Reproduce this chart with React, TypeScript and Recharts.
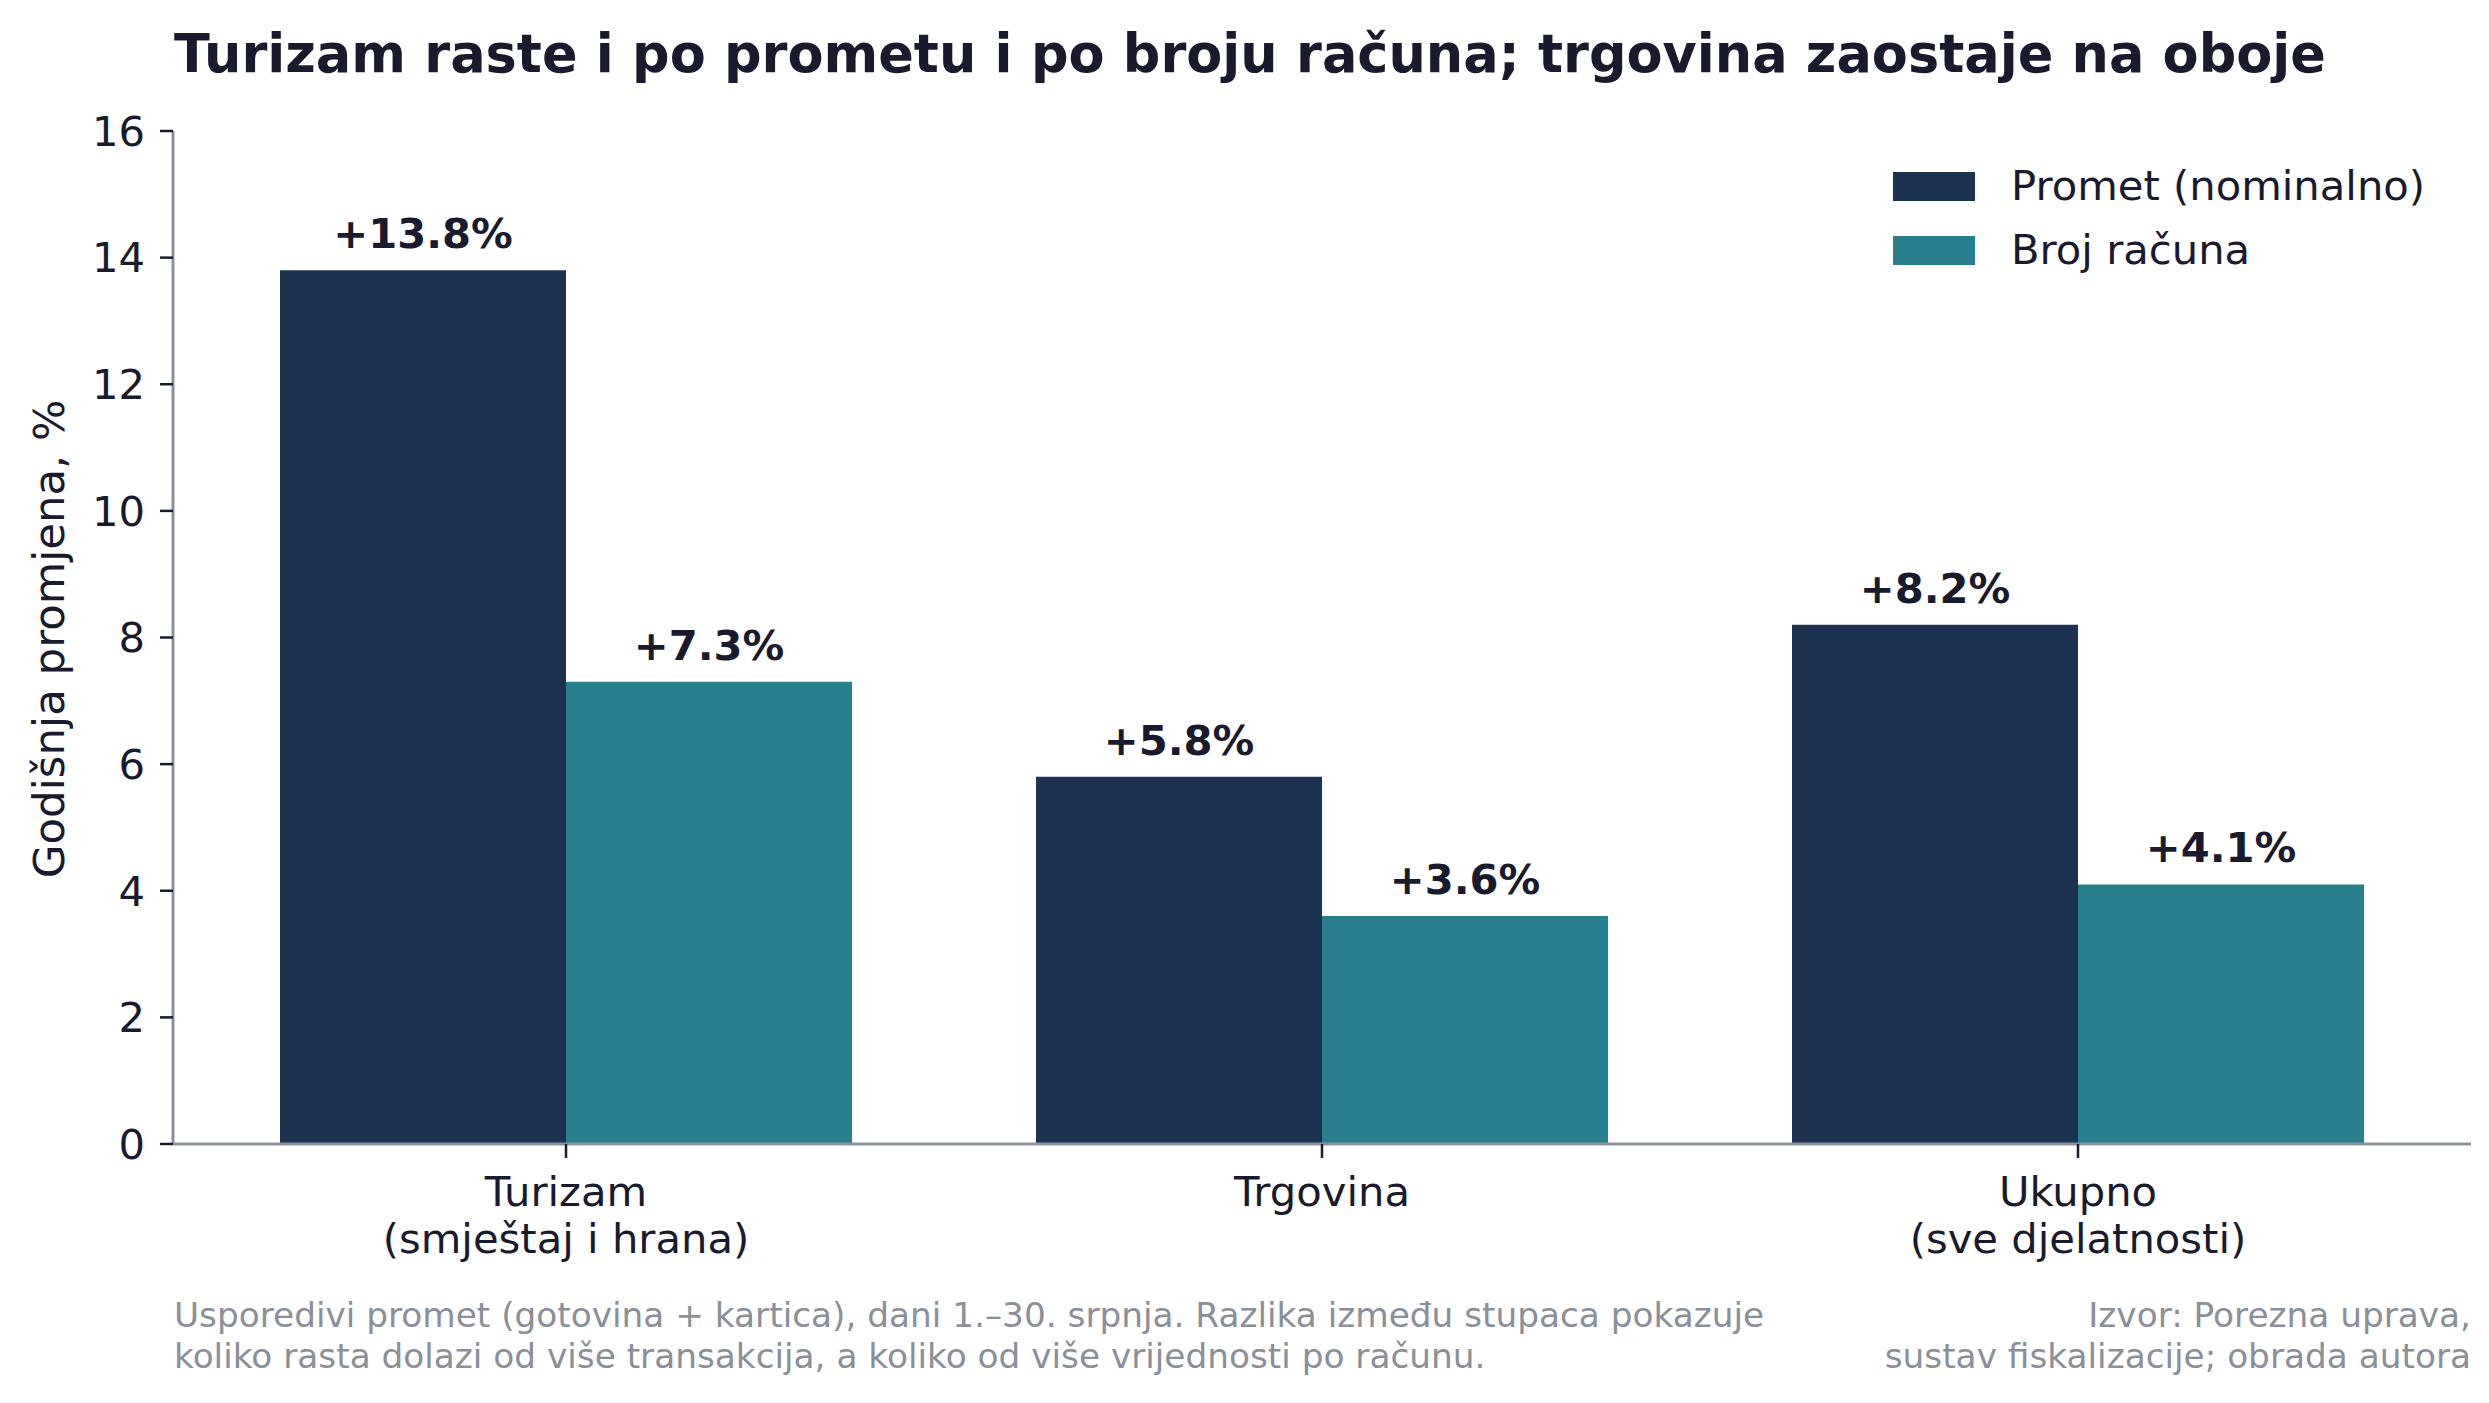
import React from 'react';
import { BarChart, Bar, XAxis, YAxis, LabelList, Legend, ReferenceLine } from 'recharts';

const categories = ['Turizam\n(smještaj i hrana)', 'Trgovina', 'Ukupno\n(sve djelatnosti)'];
const prometValues = [13.8, 5.8, 8.2];
const racuniValues = [7.3, 3.6, 4.1];
const yTicks = [0, 2, 4, 6, 8, 10, 12, 14, 16];
const seriesNames = ['Promet (nominalno)', 'Broj računa'];
const titleText = 'Turizam raste i po prometu i po broju računa; trgovina zaostaje na oboje';
const yLabelText = 'Godišnja promjena, %';
const noteLines = [
  'Usporedivi promet (gotovina + kartica), dani 1.–30. srpnja. Razlika između stupaca pokazuje',
  'koliko rasta dolazi od više transakcija, a koliko od više vrijednosti po računu.',
];
const sourceLines = ['Izvor: Porezna uprava,', 'sustav fiskalizacije; obrada autora'];

const data = categories.map((c, i) => ({ category: c, promet: prometValues[i], racuni: racuniValues[i] }));

const FONT = '"DejaVu Sans", sans-serif';
const TEXT = '#1a1a2e';
const GRAY = '#8a8f99';
const SPINE = '#8c919c';
const C1 = '#1b3350';
const C2 = '#2a7f8e';

const W = 2489;
const H = 1403;

const CategoryTick = (props: any) => {
  const { x, y, payload } = props;
  const lines = String(payload.value).split('\n');
  return (
    <text x={x} y={y} textAnchor="middle" fill={TEXT} fontSize={41.7} fontFamily={FONT}>
      {lines.map((l, i) => (
        <tspan key={i} x={x} dy={i === 0 ? 38 : 47}>
          {l}
        </tspan>
      ))}
    </text>
  );
};

const renderLegend = (props: any) => {
  const payload = [...(props.payload || [])].sort(
    (a: any, b: any) => seriesNames.indexOf(a.value) - seriesNames.indexOf(b.value)
  );
  return (
    <div style={{ fontFamily: FONT }}>
      {payload.map((entry: any, i: number) => (
        <div key={i} style={{ display: 'flex', alignItems: 'center', height: 64 }}>
          <div style={{ width: 82, height: 29, background: entry.color }} />
          <span style={{ marginLeft: 36, fontSize: 41.7, color: TEXT, lineHeight: '64px', whiteSpace: 'nowrap' }}>
            {entry.value}
          </span>
        </div>
      ))}
    </div>
  );
};

const fmt = (v: any) => `+${Number(v).toFixed(1)}%`;

export default function App() {
  return (
    <div style={{ position: 'absolute', left: 0, top: 0, width: W, height: H, background: '#ffffff' }}>
      <style>{`body{margin:0;background:#fff}`}</style>
      <BarChart
        width={W}
        height={H}
        data={data}
        margin={{ top: 131, right: 18, bottom: 139, left: 73 }}
        barGap={0}
        barSize={286}
      >
        <XAxis
          dataKey="category"
          height={120}
          padding={{ left: 15, right: 15 }}
          axisLine={{ stroke: SPINE, strokeWidth: 3 }}
          tickLine={{ stroke: TEXT, strokeWidth: 2.5 }}
          tickSize={14}
          tickMargin={10}
          tick={(p: any) => <CategoryTick {...p} />}
          interval={0}
        />
        <YAxis
          width={100}
          domain={[0, 16]}
          ticks={yTicks}
          interval={0}
          allowDataOverflow
          axisLine={{ stroke: SPINE, strokeWidth: 3 }}
          tickLine={{ stroke: TEXT, strokeWidth: 2.5 }}
          tickSize={13}
          tickMargin={15}
          tick={{ fill: TEXT, fontSize: 41.7, fontFamily: FONT }}
        />
        <Legend
          layout="vertical"
          align="center"
          verticalAlign="middle"
          content={renderLegend}
          wrapperStyle={{ position: 'absolute', left: 1893, top: 154, width: 580, height: 128 }}
        />
        <Bar dataKey="promet" name={seriesNames[0]} fill={C1} isAnimationActive={false}>
          <LabelList
            dataKey="promet"
            position="top"
            offset={22}
            formatter={fmt}
            fill={TEXT}
            fontSize={41.7}
            fontWeight="bold"
            fontFamily={FONT}
          />
        </Bar>
        <Bar dataKey="racuni" name={seriesNames[1]} fill={C2} isAnimationActive={false}>
          <LabelList
            dataKey="racuni"
            position="top"
            offset={22}
            formatter={fmt}
            fill={TEXT}
            fontSize={41.7}
            fontWeight="bold"
            fontFamily={FONT}
          />
        </Bar>
        <ReferenceLine y={0} stroke="#4a4f5c" strokeWidth={1.2} />
      </BarChart>
      <svg
        width={W}
        height={H}
        style={{ position: 'absolute', left: 0, top: 0, pointerEvents: 'none' }}
      >
        <text x={174} y={72} fontFamily={FONT} fontWeight="bold" fontSize={52.5} fill={TEXT}>
          {titleText}
        </text>
        <text
          transform="translate(64,639) rotate(-90)"
          textAnchor="middle"
          fontFamily={FONT}
          fontSize={43.5}
          fill={TEXT}
        >
          {yLabelText}
        </text>
        {noteLines.map((l, i) => (
          <text key={'n' + i} x={174} y={1327 + i * 41} fontFamily={FONT} fontSize={34.3} fill={GRAY}>
            {l}
          </text>
        ))}
        {sourceLines.map((l, i) => (
          <text
            key={'s' + i}
            x={2471}
            y={1327 + i * 41}
            textAnchor="end"
            fontFamily={FONT}
            fontSize={34.3}
            fill={GRAY}
          >
            {l}
          </text>
        ))}
      </svg>
    </div>
  );
}
